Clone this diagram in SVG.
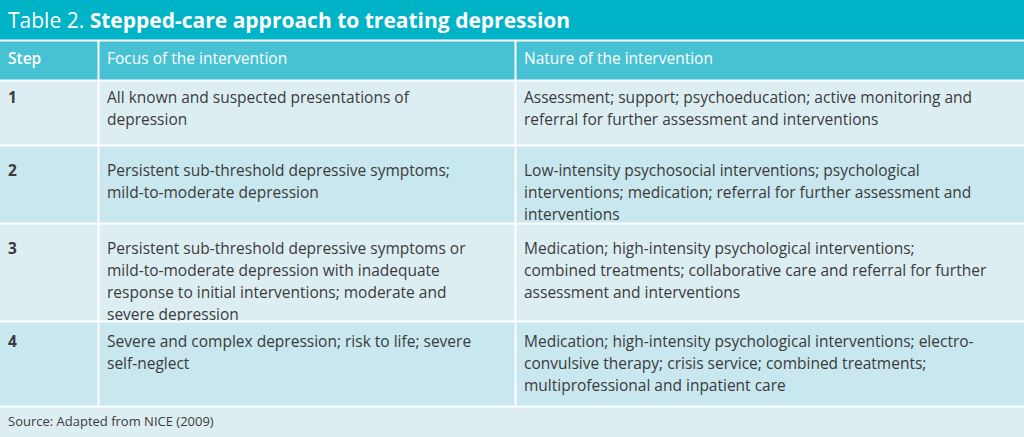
<svg xmlns="http://www.w3.org/2000/svg" width="1024" height="437" viewBox="0 0 1024 437">
<style>
text{font-family:"Open Sans","Liberation Sans",sans-serif;font-size:15.5px;fill:#3b3b3b}
.h{fill:#fff}
.b{font-weight:bold}
.sep{stroke:#fff;stroke-width:2}
</style>
<rect width="1024" height="437" fill="#ddeef3"/>
<g id="title"><rect width="1024" height="40" fill="#00b3c6"/>
<text x="8" y="28" class="h" style="font-size:21px">Table 2. <tspan class="b" style="font-family:'Open Sans','Liberation Sans',sans-serif">Stepped-care approach to treating depression</tspan></text></g>
<g id="header"><rect y="41" width="1024" height="39" fill="#47c2d5"/>
<text x="8" y="64" class="h b" style="font-weight:600">Step</text>
<text x="107" y="64" class="h">Focus of the intervention</text>
<text x="524" y="64" class="h">Nature of the intervention</text></g>
<g id="row1"><rect y="81" width="1024" height="64" fill="#ddeef3"/>
<text x="8" y="103" class="b">1</text>
<text x="107" y="103">All known and suspected presentations of</text><text x="107" y="125">depression</text>
<text x="524" y="103">Assessment; support; psychoeducation; active monitoring and</text><text x="524" y="125">referral for further assessment and interventions</text></g>
<g id="row2"><rect y="146" width="1024" height="77" fill="#c8e7ee"/>
<text x="8" y="176" class="b">2</text>
<text x="107" y="176">Persistent sub-threshold depressive symptoms;</text><text x="107" y="198">mild-to-moderate depression</text>
<text x="524" y="176">Low-intensity psychosocial interventions; psychological</text><text x="524" y="198">interventions; medication; referral for further assessment and</text><text x="524" y="220">interventions</text></g>
<g id="row3"><rect y="224" width="1024" height="97" fill="#ddeef3"/>
<text x="8" y="254" class="b">3</text>
<text x="107" y="254">Persistent sub-threshold depressive symptoms or</text><text x="107" y="276">mild-to-moderate depression with inadequate</text><text x="107" y="298">response to initial interventions; moderate and</text><text x="107" y="320">severe depression</text>
<text x="524" y="254">Medication; high-intensity psychological interventions;</text><text x="524" y="276">combined treatments; collaborative care and referral for further</text><text x="524" y="298">assessment and interventions</text></g>
<g id="row4"><rect y="322" width="1024" height="84" fill="#c8e7ee"/>
<text x="8" y="347" class="b">4</text>
<text x="107" y="347">Severe and complex depression; risk to life; severe</text><text x="107" y="369">self-neglect</text>
<text x="524" y="347">Medication; high-intensity psychological interventions; electro-</text><text x="524" y="369">convulsive therapy; crisis service; combined treatments;</text><text x="524" y="391">multiprofessional and inpatient care</text></g>
<g id="source"><text x="8" y="426" style="font-size:13px">Source: Adapted from NICE (2009)</text></g>
<g id="lines">
<line class="sep" x1="0" y1="40.5" x2="1024" y2="40.5"/>
<line class="sep" x1="0" y1="80.5" x2="1024" y2="80.5"/>
<line class="sep" x1="0" y1="145.5" x2="1024" y2="145.5"/>
<line class="sep" x1="0" y1="223.5" x2="1024" y2="223.5"/>
<line class="sep" x1="0" y1="321.5" x2="1024" y2="321.5"/>
<line class="sep" x1="0" y1="406.5" x2="1024" y2="406.5"/>
<line class="sep" x1="98.5" y1="41" x2="98.5" y2="406"/>
<line class="sep" x1="515.5" y1="41" x2="515.5" y2="406"/>
</g>
</svg>
